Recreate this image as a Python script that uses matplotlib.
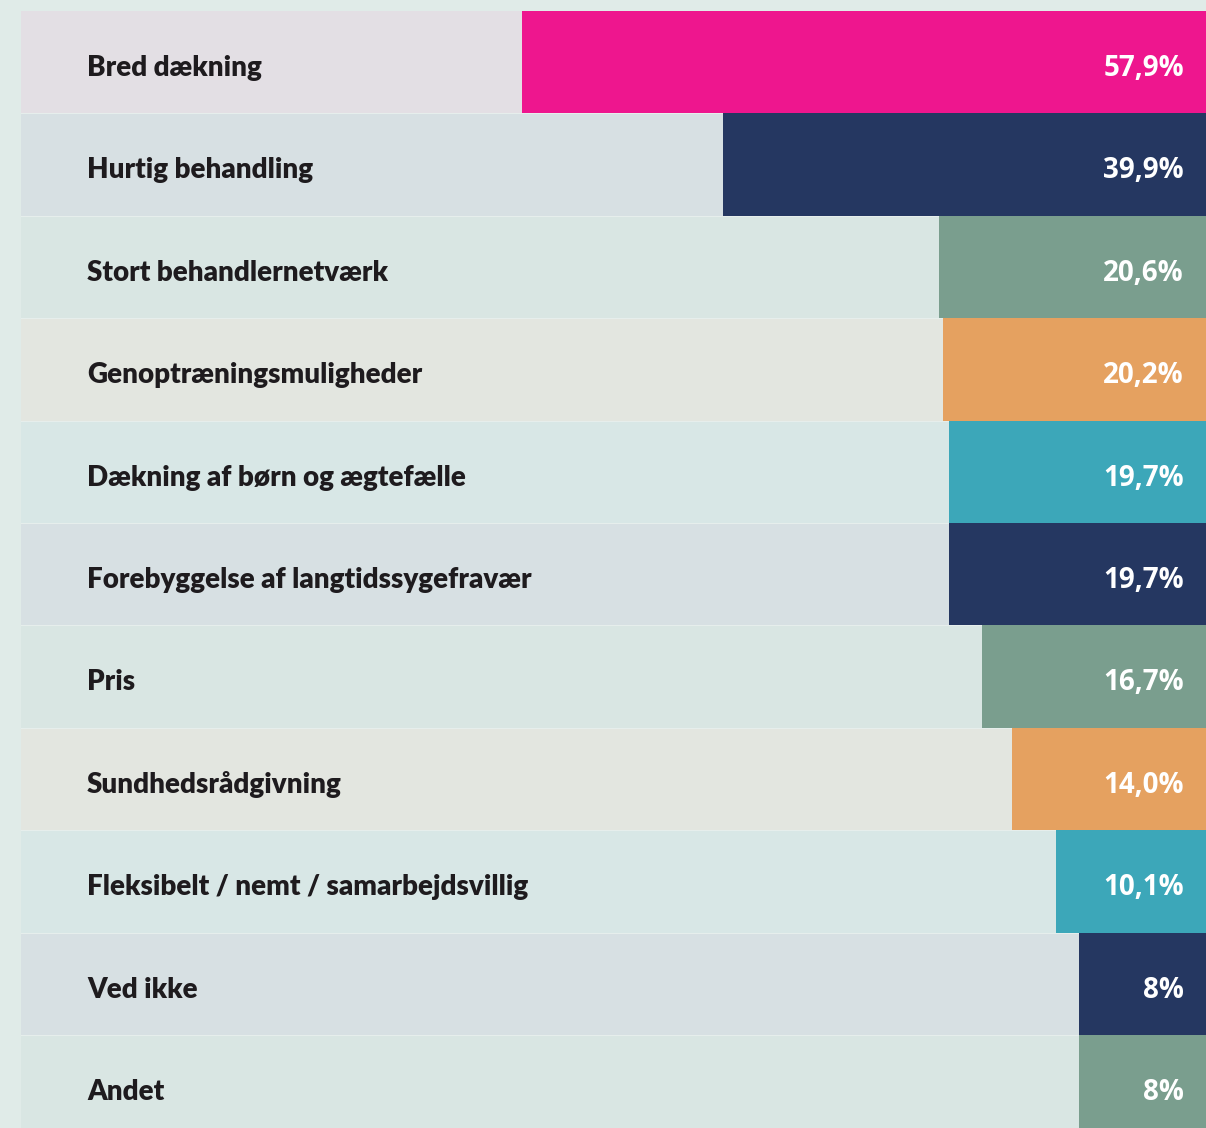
import matplotlib
matplotlib.use("Agg")
import matplotlib.pyplot as plt
from matplotlib.transforms import blended_transform_factory

categories = ["Bred dækning", "Hurtig behandling", "Stort behandlernetværk",
              "Genoptræningsmuligheder", "Dækning af børn og ægtefælle",
              "Forebyggelse af langtidssygefravær", "Pris", "Sundhedsrådgivning",
              "Fleksibelt / nemt / samarbejdsvillig", "Ved ikke", "Andet"]
values = [57.9, 39.9, 20.6, 20.2, 19.7, 19.7, 16.7, 14.0, 10.1, 8, 8]
value_labels = ["57,9%", "39,9%", "20,6%", "20,2%", "19,7%", "19,7%",
                "16,7%", "14,0%", "10,1%", "8%", "8%"]

bar_colors = ["#ee168e", "#253761", "#7a9e8e", "#e5a160", "#3ca7b9",
              "#253761", "#7a9e8e", "#e5a160", "#3ca7b9", "#253761", "#7a9e8e"]
row_colors = ["#e3dfe4", "#d7e0e3", "#d9e6e3", "#e3e6e0", "#d8e7e6",
              "#d7e0e3", "#d9e6e3", "#e3e6e0", "#d8e7e6", "#d7e0e3", "#d9e6e3"]

W, H = 1206, 1128
fig = plt.figure(figsize=(W / 100, H / 100), dpi=100)
fig.patch.set_facecolor("#e0ebe8")

left_px, top_px = 21, 11
ax = fig.add_axes([left_px / W, 0, 1 - left_px / W, 1 - top_px / H])
ax.set_facecolor("#e0ebe8")

n = len(categories)
ys = list(range(n))
row_h_px = 102.4
axes_h_px = H - top_px
rows_visible = axes_h_px / row_h_px

x_right = -3.32
x_left = x_right + (W - left_px) / 11.18

# background rows
for i in ys:
    ax.axhspan(i - 0.5, i + 0.5, color=row_colors[i], lw=0, zorder=0)
    ax.axhline(i + 0.5, color="#e6eeec", lw=0.8, zorder=0.5)

ax.barh(ys, values, height=1.0, left=0, color=bar_colors, zorder=1)
# bars continue to the right edge of the panel
ax.barh(ys, [0 - x_right] * n, height=1.0, left=x_right, color=bar_colors,
        zorder=1, lw=0)

ax.set_xlim(x_left, x_right)
ax.set_ylim(-0.5 + rows_visible, -0.5)
ax.axis("off")

trans = blended_transform_factory(ax.transAxes, ax.transData)
lab_x = (87 - left_px) / (W - left_px)
val_x = (1184 - left_px) / (W - left_px)
for i in ys:
    ax.text(lab_x, i + 0.135, categories[i], transform=trans, ha="left",
            va="baseline", fontsize=20, fontweight="heavy", family="Lato",
            color="#1e1b1e", zorder=3)
    ax.text(val_x, i + 0.135, value_labels[i], transform=trans, ha="right",
            va="baseline", fontsize=20, fontweight="bold", family="Open Sans",
            color="white", zorder=3)

fig.savefig("out.png", dpi=100, facecolor=fig.get_facecolor())
